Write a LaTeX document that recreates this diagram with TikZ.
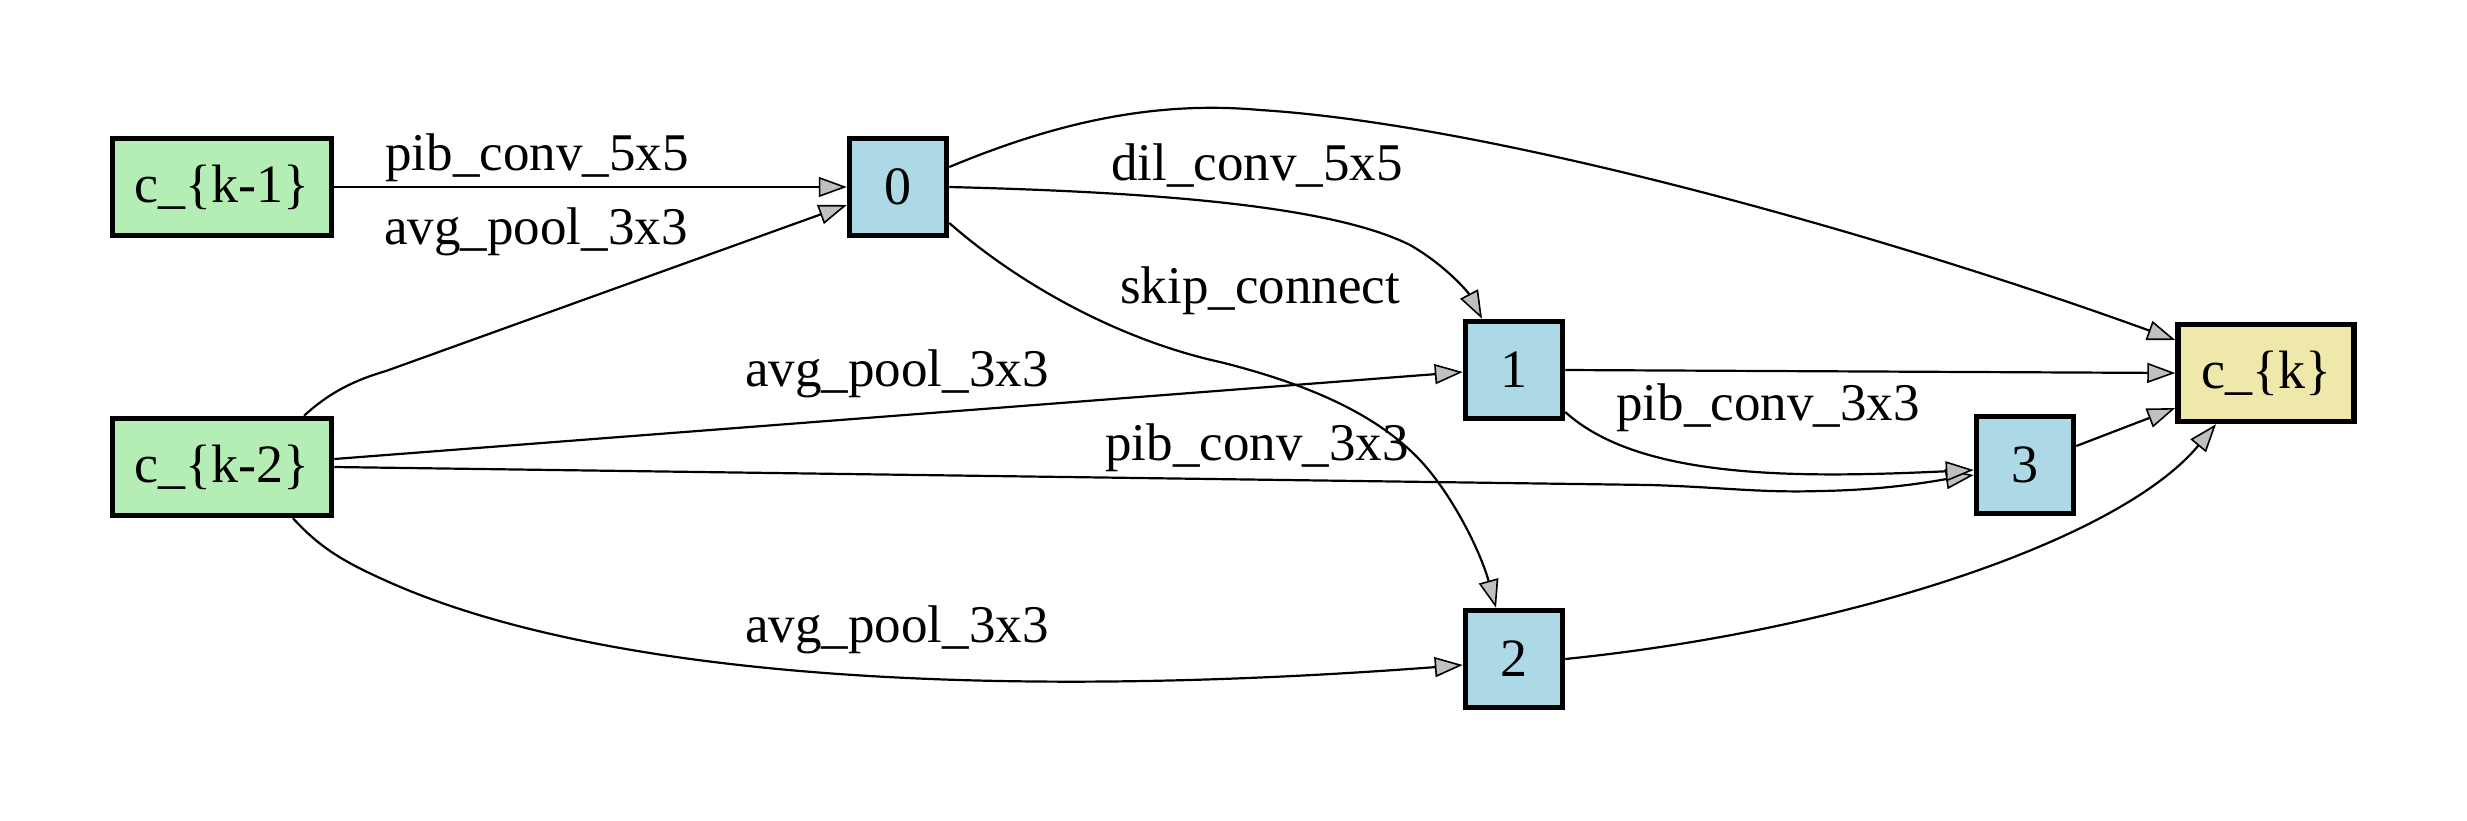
\documentclass[tikz,border=0pt]{standalone}
\usepackage{fontspec}
\setmainfont{Liberation Serif}
\usetikzlibrary{arrows.meta}
\definecolor{srcgreen}{RGB}{180,238,180}
\definecolor{opblue}{RGB}{173,216,230}
\definecolor{outyellow}{RGB}{238,232,170}
\definecolor{arrowgray}{RGB}{192,192,192}
\begin{document}
\begin{tikzpicture}[x=1pt,y=-1pt,
  box/.style={draw=black, line width=5.5pt, rectangle, inner sep=0pt, minimum height=97pt,
    font=\fontsize{54}{60}\selectfont},
  srcbox/.style={box, fill=srcgreen, minimum width=219pt},
  opbox/.style={box, fill=opblue, minimum width=97pt},
  outbox/.style={box, fill=outyellow, minimum width=176pt},
  lbl/.style={anchor=base, inner sep=0pt, font=\fontsize{53}{60}\selectfont},
  conn/.style={draw=black, line width=2.2pt, -{Triangle[length=28pt,width=20pt,fill=arrowgray,line width=1.6pt]}}
]
\useasboundingbox (0,0) rectangle (2467,820);
\fill[white] (0,0) rectangle (2467,820);

\node[srcbox] (k1) at (222,187) {c\_\{k-1\}};
\node[srcbox] (k2) at (222,467) {c\_\{k-2\}};
\node[opbox] (n0) at (898,187) {0};
\node[opbox] (n1) at (1514,370) {1};
\node[opbox] (n2) at (1514,659) {2};
\node[opbox] (n3) at (2025,465) {3};
\node[outbox] (ck) at (2266,373) {c\_\{k\}};

% edges
\draw[conn] (k1.east) -- (n0.west);
\draw[conn] ([xshift=82pt]k2.north) .. controls (330,392) and (355,380) .. (386,371) -- ([yshift=-18pt]n0.west);
\draw[conn] (n0.east) .. controls (1150,192) and (1330,205) .. (1410,245) .. controls (1445,265) and (1468,292) .. ([xshift=-32pt]n1.north);
\draw[conn] ([yshift=-36pt]n0.east) .. controls (1020,285) and (1120,340) .. (1220,362) .. controls (1300,382) and (1370,410) .. (1416,456) .. controls (1450,490) and (1480,550) .. ([xshift=-18pt]n2.north);
\draw[conn] ([yshift=8pt]k2.east) -- ([yshift=-2pt]n1.west);
\draw[conn] (k2.east) -- (1650,485) .. controls (1720,487) and (1760,493) .. (1820,491) .. controls (1890,490) and (1940,480) .. ([yshift=-10pt]n3.west);
\draw[conn] ([xshift=71pt]k2.south) .. controls (320,548) and (345,562) .. (380,578) .. controls (600,680) and (1000,700) .. ([yshift=-6pt]n2.west);
\draw[conn] ([yshift=20pt]n0.east) .. controls (1050,125) and (1150,100) .. (1260,110) .. controls (1500,125) and (1900,240) .. ([yshift=33pt]ck.west);
\draw[conn] (n1.east) -- (ck.west);
\draw[conn] ([yshift=-42pt]n1.east) .. controls (1640,480) and (1800,478) .. ([yshift=-5pt]n3.west);
\draw[conn] ([yshift=19pt]n3.east) -- ([yshift=-35pt]ck.west);
\draw[conn] (n2.east) .. controls (1850,630) and (2120,540) .. ([xshift=-50pt]ck.south);

% labels
\node[lbl] (l1) at (537,170) {pib\_conv\_5x5};
\node[lbl] (l2) at (536,244) {avg\_pool\_3x3};
\node[lbl] (l3) at (1257,180) {dil\_conv\_5x5};
\node[lbl] (l4) at (1260,303) {skip\_connect};
\node[lbl] (l5) at (897,386) {avg\_pool\_3x3};
\node[lbl] (l6) at (1257,460) {pib\_conv\_3x3};
\node[lbl] (l7) at (1768,420) {pib\_conv\_3x3};
\node[lbl] (l8) at (897,642) {avg\_pool\_3x3};
\end{tikzpicture}
\end{document}
